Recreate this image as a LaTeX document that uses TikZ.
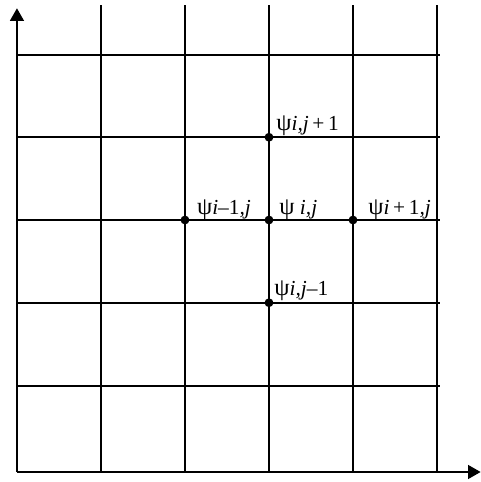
\documentclass[tikz,border=0pt]{standalone}
\usepackage{fontspec}
\setmainfont{Liberation Serif}
\usetikzlibrary{arrows.meta}

\tikzset{
  gridline/.style={line width=1.1pt},
  axis/.style={line width=1.2pt,-{Triangle[width=0.33cm,length=0.3cm]}},
  knot/.style={circle,fill,inner sep=0pt,minimum size=0.21cm},
  psilabel/.style={anchor=base west,inner sep=0pt,font=\fontsize{16.5}{18}\selectfont},
}
\newcommand{\psisub}[1]{ψ{\fontsize{14.5}{16}\selectfont\itshape #1}}

\begin{document}
\begin{tikzpicture}[x=2cm,y=2cm]
    \useasboundingbox (-0.202,-0.119) rectangle (5.524,5.619);

    % griglia
    \foreach \y in {1.024,2.015,3,3.985,4.964}
        \draw[gridline] (0,\y) -- (5.036,\y);
    \foreach \x in {1,...,5}
        \draw[gridline] (\x,0) -- (\x,5.56);

    % assi
    \coordinate (O) at (0,0);
    \coordinate (xtip) at (5.52,0);
    \coordinate (ytip) at (0,5.52);
    \draw[axis] (O) -- (ytip);
    \draw[axis] (O) -- (xtip);

    % nodi della griglia
    \node[knot] (c) at (3,3) {};
    \node[knot] (w) at (2,3) {};
    \node[knot] (e) at (4,3) {};
    \node[knot] (n) at (3,3.985) {};
    \node[knot] (s) at (3,2.015) {};

    \node[psilabel,xshift=0.24cm,yshift=0.13cm] (lc) at (c) {\psisub{ i,j}};
    \node[psilabel,xshift=0.28cm,yshift=0.13cm] (lw) at (w) {\psisub{i\textup{–1},j}};
    \node[psilabel,xshift=0.36cm,yshift=0.13cm] (le) at (e) {\psisub{i\textup{\,+\,1},j}};
    \node[psilabel,xshift=0.17cm,yshift=0.16cm] (ln) at (n) {\psisub{i,j\textup{\,+\,1}}};
    \node[psilabel,xshift=0.12cm,yshift=0.18cm] (ls) at (s) {\psisub{i,j\textup{–1}}};
\end{tikzpicture}
\end{document}
